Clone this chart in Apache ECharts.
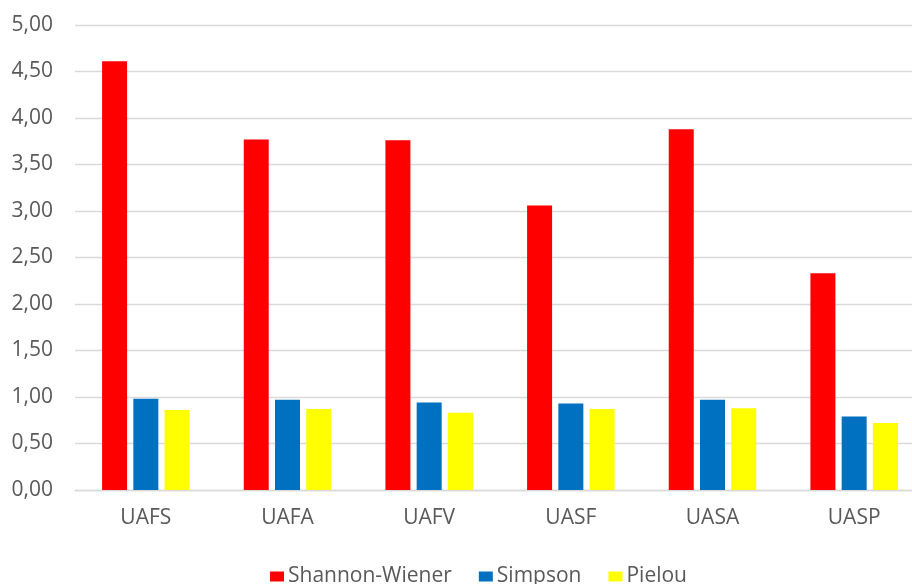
<!DOCTYPE html>
<html>
<head>
<meta charset="utf-8">
<script src="https://cdn.jsdelivr.net/npm/echarts@6/dist/echarts.min.js"></script>
<style>
  html, body { margin: 0; padding: 0; background: #ffffff; overflow: hidden; }
  /* canvas is wider than the window: the plot area runs past the right edge */
  #chart { width: 925px; height: 584px; }
</style>
</head>
<body>
<div id="chart"></div>
<script>
// Diversity indices per sampling unit
const categories = ['UAFS', 'UAFA', 'UAFV', 'UASF', 'UASA', 'UASP'];
const shannonWiener = [4.61, 3.77, 3.76, 3.06, 3.88, 2.33];
const simpson = [0.98, 0.97, 0.94, 0.93, 0.97, 0.79];
const pielou = [0.86, 0.87, 0.83, 0.87, 0.88, 0.72];
const seriesNames = ['Shannon-Wiener', 'Simpson', 'Pielou'];

const FONT = 'Open Sans';
const TEXT = '#595959';
const GRID = '#d9d9d9';

const chart = echarts.init(document.getElementById('chart'), null, { renderer: 'canvas' });

const bar = (name, data, color) => ({
  name: name,
  type: 'bar',
  data: data,
  barWidth: 25,
  barGap: '25%',
  itemStyle: { color: color },
  animation: false
});

chart.setOption({
  animation: false,
  backgroundColor: '#ffffff',
  grid: { left: 75, right: 0, top: 25, bottom: 94, containLabel: false },
  legend: {
    data: seriesNames,
    left: 265,
    top: 561,
    itemWidth: 14,
    itemHeight: 10,
    itemGap: 27,
    icon: 'rect',
    textStyle: { fontFamily: FONT, fontSize: 21, color: TEXT, padding: [0, 0, 0, -1] }
  },
  xAxis: {
    type: 'category',
    data: categories,
    axisLine: { show: true, lineStyle: { color: GRID, width: 1.3 } },
    axisTick: { show: false },
    axisLabel: { fontFamily: FONT, fontSize: 21, color: TEXT, margin: 18 }
  },
  yAxis: {
    type: 'value',
    min: 0,
    max: 5,
    interval: 0.5,
    axisLine: { show: false },
    axisTick: { show: false },
    splitLine: { lineStyle: { color: GRID, width: 1.3 } },
    axisLabel: {
      fontFamily: FONT,
      fontSize: 21,
      color: TEXT,
      margin: 22,
      formatter: v => v.toFixed(2).replace('.', ',')
    }
  },
  series: [
    bar(seriesNames[0], shannonWiener, '#ff0000'),
    bar(seriesNames[1], simpson, '#0070c0'),
    bar(seriesNames[2], pielou, '#ffff00')
  ]
});
</script>
</body>
</html>
